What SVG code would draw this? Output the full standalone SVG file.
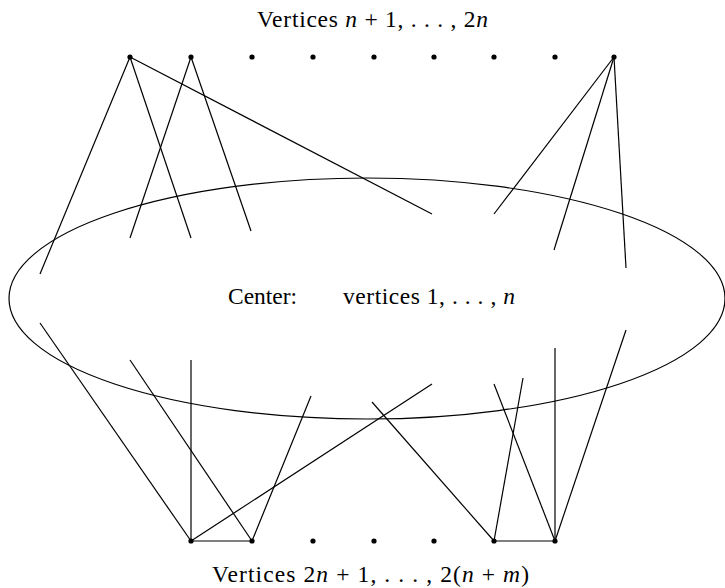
<svg xmlns="http://www.w3.org/2000/svg" width="725" height="588" viewBox="0 0 725 588">
<style>
.e{stroke:#000;stroke-width:1.2;fill:none;stroke-linecap:butt}
.v{fill:#000}
.t{font-family:"Liberation Serif","DejaVu Serif",serif;font-size:23.5px;fill:#000}
.m{font-style:italic}
</style>
<rect width="725" height="588" fill="#fff"/>
<g id="center">
<ellipse cx="367" cy="298.5" rx="358" ry="120.5" class="e"/>
<text class="t" x="228" y="304" textLength="69" lengthAdjust="spacingAndGlyphs">Center:</text>
<text class="t" x="343" y="304" textLength="172" lengthAdjust="spacing">vertices 1, . . . , <tspan class="m">n</tspan></text>
</g>
<g id="connectors">
<line class="e" x1="130" y1="57" x2="40" y2="274"/>
<line class="e" x1="130" y1="57" x2="191" y2="238"/>
<line class="e" x1="130" y1="57" x2="432" y2="214"/>
<line class="e" x1="191" y1="57" x2="130" y2="238"/>
<line class="e" x1="191" y1="57" x2="251" y2="231"/>
<line class="e" x1="614" y1="57" x2="494" y2="214"/>
<line class="e" x1="614" y1="57" x2="554" y2="250"/>
<line class="e" x1="614" y1="57" x2="626" y2="268"/>
<line class="e" x1="191" y1="541" x2="40" y2="323"/>
<line class="e" x1="191" y1="541" x2="191" y2="360"/>
<line class="e" x1="191" y1="541" x2="432" y2="384"/>
<line class="e" x1="252" y1="541" x2="130" y2="360"/>
<line class="e" x1="252" y1="541" x2="311" y2="396"/>
<line class="e" x1="191" y1="541" x2="252" y2="541"/>
<line class="e" x1="494" y1="541" x2="372" y2="402"/>
<line class="e" x1="494" y1="541" x2="523" y2="378"/>
<line class="e" x1="555" y1="541" x2="494" y2="384"/>
<line class="e" x1="555" y1="541" x2="555" y2="348"/>
<line class="e" x1="555" y1="541" x2="626" y2="330"/>
<line class="e" x1="494" y1="541" x2="555" y2="541"/>
</g>
<g id="top-vertices">
<g id="t1"><circle class="v" cx="130" cy="57" r="2.6"/></g>
<g id="t2"><circle class="v" cx="191" cy="57" r="2.6"/></g>
<g id="t3"><circle class="v" cx="252" cy="57" r="2.6"/></g>
<g id="t4"><circle class="v" cx="313" cy="57" r="2.6"/></g>
<g id="t5"><circle class="v" cx="374" cy="57" r="2.6"/></g>
<g id="t6"><circle class="v" cx="434" cy="57" r="2.6"/></g>
<g id="t7"><circle class="v" cx="494" cy="57" r="2.6"/></g>
<g id="t8"><circle class="v" cx="555" cy="57" r="2.6"/></g>
<g id="t9"><circle class="v" cx="614" cy="57" r="2.6"/></g>
<text id="top-label" class="t" x="257" y="27" textLength="231" lengthAdjust="spacing">Vertices <tspan class="m">n</tspan> + 1, . . . , 2<tspan class="m">n</tspan></text>
</g>
<g id="bottom-vertices">
<g id="b1"><circle class="v" cx="191" cy="541" r="2.6"/></g>
<g id="b2"><circle class="v" cx="252" cy="541" r="2.6"/></g>
<g id="b3"><circle class="v" cx="313" cy="541" r="2.6"/></g>
<g id="b4"><circle class="v" cx="374" cy="541" r="2.6"/></g>
<g id="b5"><circle class="v" cx="434" cy="541" r="2.6"/></g>
<g id="b6"><circle class="v" cx="494" cy="541" r="2.6"/></g>
<g id="b7"><circle class="v" cx="555" cy="541" r="2.6"/></g>
<text id="bottom-label" class="t" x="212" y="582" textLength="317" lengthAdjust="spacing">Vertices 2<tspan class="m">n</tspan> + 1, . . . , 2(<tspan class="m">n</tspan> + <tspan class="m">m</tspan>)</text>
</g>
</svg>
